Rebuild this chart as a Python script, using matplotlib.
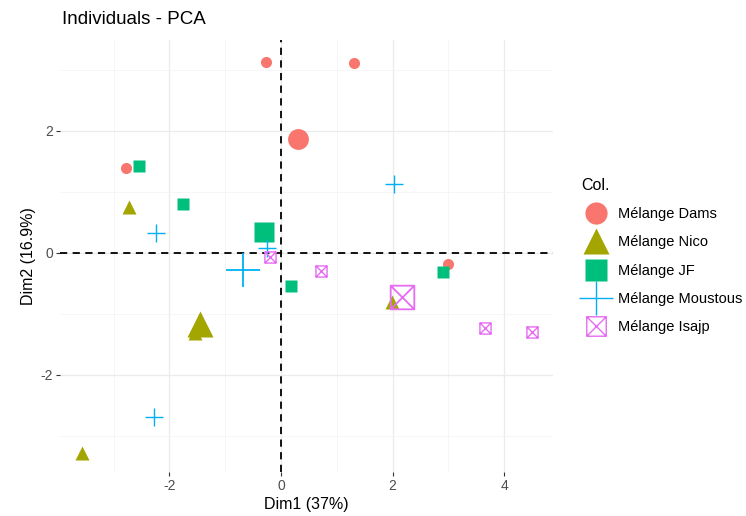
import numpy as np
import matplotlib
matplotlib.use("Agg")
import matplotlib.pyplot as plt
from matplotlib.path import Path
from matplotlib.lines import Line2D

plt.rcParams['font.family'] = ['Liberation Sans', 'DejaVu Sans']
plt.rcParams['axes.unicode_minus'] = False

# individuals coordinates (Dim1, Dim2)
groups = ["Mélange Dams", "Mélange Nico", "Mélange JF", "Mélange Moustous", "Mélange Isajp"]
dams_x = [-0.27, 1.31, -2.78, 2.99]
dams_y = [3.13, 3.11, 1.39, -0.18]
nico_x = [-2.72, -3.57, 1.99, -1.54]
nico_y = [0.75, -3.28, -0.80, -1.31]
jf_x = [-2.54, -1.76, 0.18, 2.90]
jf_y = [1.43, 0.80, -0.54, -0.31]
mous_x = [-2.24, 2.03, -2.28, -0.25]
mous_y = [0.33, 1.13, -2.69, 0.08]
isa_x = [-0.20, 0.72, 3.66, 4.50]
isa_y = [-0.07, -0.30, -1.23, -1.30]

xs = [dams_x, nico_x, jf_x, mous_x, isa_x]
ys = [dams_y, nico_y, jf_y, mous_y, isa_y]
colors = ["#F8766D", "#A3A500", "#00BF7D", "#00B0F6", "#E76BF3"]

# square with a cross inside (ggplot shape 7)
sqx = Path([(-1, -1), (1, -1), (1, 1), (-1, 1), (-1, -1), (-1, -1), (1, 1), (-1, 1), (1, -1)],
           [Path.MOVETO, Path.LINETO, Path.LINETO, Path.LINETO, Path.CLOSEPOLY,
            Path.MOVETO, Path.LINETO, Path.MOVETO, Path.LINETO])
markers = ["o", "^", "s", "+", sqx]
small = [8, 10, 8, 13, 8]
big = [15, 19, 15, 24, 17]
leg_size = [16, 19, 16, 24, 14]

fig = plt.figure(figsize=(7.46, 5.16), dpi=100)
ax = fig.add_axes([0.0804, 0.0853, 0.6606, 0.8372])

for i in range(5):
    c = colors[i]
    m = markers[i]
    filled = i < 3
    mx = np.mean(xs[i])
    my = np.mean(ys[i])
    if filled:
        ax.plot(xs[i], ys[i], ls="none", marker=m, ms=small[i], color=c, mec="none", zorder=3)
        ax.plot([mx], [my], ls="none", marker=m, ms=big[i], color=c, mec="none", zorder=3)
    else:
        ax.plot(xs[i], ys[i], ls="none", marker=m, ms=small[i], mfc="none", mec=c, mew=1.0, zorder=3)
        ax.plot([mx], [my], ls="none", marker=m, ms=big[i], mfc="none", mec=c, mew=1.3, zorder=3)

ax.axhline(0, color="black", ls=(0, (4, 3)), lw=1.3, zorder=2)
ax.axvline(0, color="black", ls=(0, (4, 3)), lw=1.3, zorder=2)

ax.set_xlim(-3.96, 4.87)
ax.set_ylim(-3.59, 3.49)
ax.set_xticks([-2, 0, 2, 4])
ax.set_yticks([-2, 0, 2])
ax.set_xticks([-3, -1, 1, 3], minor=True)
ax.set_yticks([-3, -1, 1, 3], minor=True)
ax.grid(True, which="major", color="#EBEBEB", lw=0.9, zorder=0)
ax.grid(True, which="minor", color="#F3F3F3", lw=0.5, zorder=0)
ax.set_axisbelow(True)
for s in ax.spines.values():
    s.set_visible(False)
ax.tick_params(which="major", length=3, color="#333333", labelsize=10, labelcolor="#4D4D4D", pad=2)
ax.tick_params(which="minor", length=0)

ax.set_xlabel("Dim1 (37%)", fontsize=11.5, labelpad=3)
ax.set_ylabel("Dim2 (16.9%)", fontsize=11.5, labelpad=3)
fig.text(0.083, 0.962, "Individuals - PCA", fontsize=13.5, ha="left", va="center")

handles = []
for i in range(5):
    if i < 3:
        h = Line2D([], [], ls="none", marker=markers[i], ms=leg_size[i], color=colors[i], mec="none")
    else:
        h = Line2D([], [], ls="none", marker=markers[i], ms=leg_size[i], mfc="none", mec=colors[i], mew=1.0)
    handles.append(h)
leg = fig.legend(handles, groups, loc="upper left", bbox_to_anchor=(0.771, 0.666),
                 frameon=False, title="Col.", fontsize=10.5, title_fontsize=11.5,
                 handletextpad=0.55, labelspacing=0.97, borderaxespad=0)
leg._legend_box.align = "left"

fig.savefig("out.png", dpi=100)
